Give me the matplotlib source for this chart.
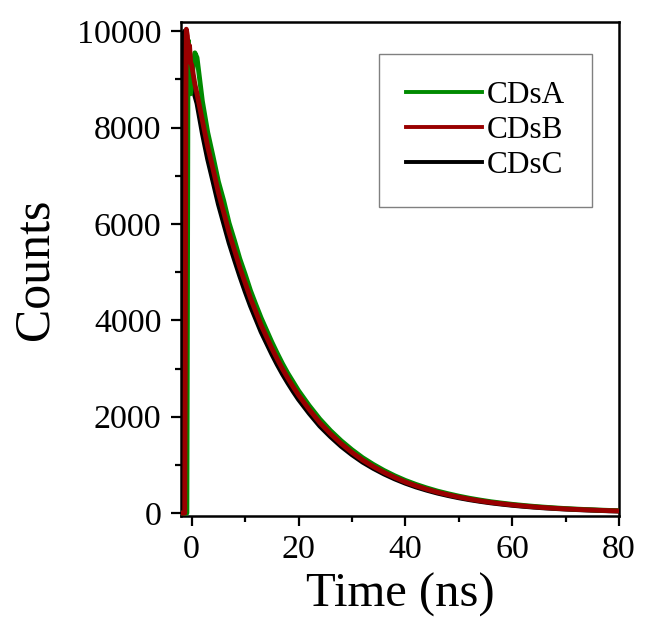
import matplotlib
matplotlib.use("Agg")
import matplotlib.pyplot as plt
from matplotlib.ticker import MultipleLocator

plt.rcParams['font.family'] = ['Liberation Serif', 'DejaVu Serif']

# rising edge / peak region
t_rise_a = [-2.0, -0.9, -0.8, -0.7, -0.6, -0.4, -0.2, 0.0, 0.3, 0.6]
c_rise_a = [0, 0, 4000, 9000, 9800, 9200, 8700, 8900, 9300, 9550]
t_rise_b = [-2.0, -1.3, -1.2, -1.1, -1.0, -0.8, -0.6, -0.4, -0.2, 0.0, 0.3, 0.6]
c_rise_b = [0, 0, 3000, 8500, 10040, 9900, 9500, 9700, 9350, 9300, 9100, 8900]
t_rise_c = [-2.0, -1.6, -1.5, -1.4, -1.3, -1.1, -0.9, -0.6, -0.3, 0.0, 0.5]
c_rise_c = [0, 0, 5000, 9500, 10000, 9700, 9400, 9300, 9100, 8950, 8700]

# decay part
t_decay = [1, 2, 3, 4, 5, 6, 7, 8, 9, 10, 11, 12, 13, 14, 15, 16, 17, 18, 19, 20,
           22, 24, 26, 28, 30, 32, 34, 36, 38, 40, 42, 44, 46, 48, 50, 52, 54, 56, 58, 60,
           62, 64, 66, 68, 70, 72, 74, 76, 78, 80]
cds_a = [9450, 8550, 7900, 7400, 6880, 6480, 6020, 5660, 5280, 4960, 4620, 4330, 4050, 3800,
         3550, 3320, 3100, 2900, 2720, 2540, 2230, 1950, 1710, 1500, 1315, 1150, 1010, 885,
         775, 678, 595, 522, 457, 402, 352, 308, 270, 236, 208, 182, 160, 140, 123, 108,
         94, 83, 73, 64, 56, 49]
cds_b = [8700, 8150, 7600, 7140, 6650, 6240, 5820, 5460, 5100, 4780, 4460, 4180, 3900, 3660,
         3420, 3200, 2990, 2800, 2620, 2450, 2150, 1875, 1645, 1440, 1260, 1100, 965, 845,
         740, 645, 565, 495, 433, 380, 332, 290, 254, 222, 195, 170, 149, 130, 114, 100,
         87, 77, 67, 59, 51, 45]
cds_c = [8500, 7880, 7340, 6880, 6410, 6010, 5610, 5260, 4920, 4600, 4300, 4030, 3760, 3530,
         3300, 3085, 2885, 2700, 2525, 2360, 2070, 1805, 1585, 1385, 1212, 1058, 928, 812,
         710, 620, 542, 475, 415, 364, 318, 278, 243, 212, 186, 162, 142, 124, 108, 95,
         83, 73, 64, 56, 48, 42]

fig = plt.figure(figsize=(6.45, 6.21), dpi=100)
ax = fig.add_axes([0.2806, 0.1691, 0.6791, 0.7955])

lw = 3.5
ax.plot(t_rise_c + t_decay, c_rise_c + cds_c, color='black', lw=lw, zorder=2)
ax.plot(t_rise_a + t_decay, c_rise_a + cds_a, color='#008a00', lw=lw, zorder=3, label='CDsA')
ax.plot(t_rise_b + t_decay, c_rise_b + cds_b, color='#990000', lw=lw, zorder=4, label='CDsB')
# legend proxy for black so order is A, B, C
ax.plot([], [], color='black', lw=2.8, label='CDsC')

ax.set_xlim(-2, 80)
ax.set_ylim(-60, 10190)
ax.xaxis.set_major_locator(MultipleLocator(20))
ax.xaxis.set_minor_locator(MultipleLocator(10))
ax.yaxis.set_major_locator(MultipleLocator(2000))
ax.yaxis.set_minor_locator(MultipleLocator(1000))

for s in ax.spines.values():
    s.set_linewidth(1.8)
ax.tick_params(which='major', direction='out', length=7, width=1.6, labelsize=24.5, pad=7)
ax.tick_params(which='minor', direction='out', length=4.5, width=1.6)
ax.tick_params(axis='x', which='major', pad=6)

ax.set_xlabel('Time (ns)', fontsize=35, labelpad=6)
ax.set_ylabel('Counts', fontsize=36, labelpad=13)

leg = ax.legend(loc='upper right', bbox_to_anchor=(0.938, 0.935), borderaxespad=0,
                fontsize=22.5, handlelength=2.45, labelspacing=0.2, handletextpad=0.15,
                fancybox=False, framealpha=1, borderpad=0.85)
for h in leg.get_lines():
    h.set_linewidth(2.8)
leg.get_frame().set_edgecolor('#808080')
leg.get_frame().set_linewidth(1.0)

fig.savefig('out.png', dpi=100)
